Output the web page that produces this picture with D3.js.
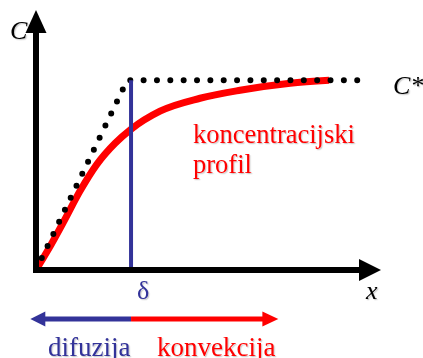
<!DOCTYPE html>
<html>
<head>
<meta charset="utf-8">
<script src="https://cdn.jsdelivr.net/npm/d3@7"></script>
<style>
  html, body { margin: 0; padding: 0; background: #fff; }
  svg { display: block; }
</style>
</head>
<body>
<script>
// Concentration profile near an interface: x measured in units of the boundary-layer thickness δ,
// C in units of the bulk concentration C*.
const profileX = [0, 0.126, 0.295, 0.463, 0.642, 0.832, 1.0, 1.305, 1.726, 2.147, 2.674, 3.084];
const profileC = [0, 0.105, 0.258, 0.416, 0.558, 0.668, 0.742, 0.837, 0.905, 0.947, 0.984, 1.0];

// Linear (film-model) approximation: rises to C* at the film edge, then stays flat.
const filmX = [0, 0.96, 3.49];
const filmC = [0, 1, 1];

const delta = 1;          // boundary-layer thickness
const xMax = 3.63;        // end of the x axis
const cMax = 1.37;        // top of the C axis
const arrowLeft = -0.06;  // extent of the diffusion / convection arrows
const arrowRight = 2.55;

const axisLabels = { c: "C", cStar: "C*", x: "x", delta: "δ" };
const regionLabels = ["difuzija", "konvekcija"];
const profileLabel = ["koncentracijski", "profil"];

const W = 423, H = 358;
const blue = "#333399", red = "#ff0000";
const serif = "Liberation Serif";

const svg = d3.select("body").append("svg").attr("width", W).attr("height", H);

const x = d3.scaleLinear().domain([0, xMax]).range([36, 381]);
const y = d3.scaleLinear().domain([0, cMax]).range([270, 10]);

const defs = svg.append("defs");
const shadow = defs.append("filter").attr("id", "soft").attr("x", "-10%").attr("y", "-10%")
  .attr("width", "130%").attr("height", "140%");
shadow.append("feDropShadow").attr("dx", 1.2).attr("dy", 1.2).attr("stdDeviation", 0.6)
  .attr("flood-color", "#000").attr("flood-opacity", 0.2);

// Concentration profile (red) and film approximation (dotted)
const line = d3.line().x(d => x(d[0])).y(d => y(d[1]));

svg.append("path")
  .attr("d", line.curve(d3.curveMonotoneX)(d3.zip(profileX, profileC)))
  .attr("fill", "none").attr("stroke", red).attr("stroke-width", 7);

svg.append("path")
  .attr("d", d3.line().x(d => x(d[0])).y(d => y(d[1]))(d3.zip(filmX, filmC)))
  .attr("fill", "none").attr("stroke", "#000").attr("stroke-width", 6)
  .attr("stroke-linecap", "round").attr("stroke-dasharray", "0 13.35");

// Boundary-layer edge
svg.append("line")
  .attr("x1", x(delta)).attr("x2", x(delta))
  .attr("y1", y(0)).attr("y2", y(1))
  .attr("stroke", blue).attr("stroke-width", 4);

// Axes with arrowheads
const ax = svg.append("g");
ax.append("line").attr("x1", x(0)).attr("x2", x(0))
  .attr("y1", y(0) + 3).attr("y2", y(cMax) + 22)
  .attr("stroke", "#000").attr("stroke-width", 6);
ax.append("path")
  .attr("d", `M${x(0) - 10.5},${y(cMax) + 23}L${x(0) + 10.5},${y(cMax) + 23}L${x(0)},${y(cMax)}Z`)
  .attr("fill", "#000");
ax.append("line").attr("x1", x(0) - 3).attr("x2", x(xMax) - 21)
  .attr("y1", y(0)).attr("y2", y(0))
  .attr("stroke", "#000").attr("stroke-width", 6);
ax.append("path")
  .attr("d", `M${x(xMax) - 22},${y(0) - 11}L${x(xMax) - 22},${y(0) + 11}L${x(xMax)},${y(0)}Z`)
  .attr("fill", "#000");

// Diffusion / convection arrows
const ay = 319;
svg.append("line").attr("x1", x(delta)).attr("x2", x(arrowLeft) + 14)
  .attr("y1", ay).attr("y2", ay).attr("stroke", blue).attr("stroke-width", 5);
svg.append("path")
  .attr("d", `M${x(arrowLeft) + 15},${ay - 7.5}L${x(arrowLeft) + 15},${ay + 7.5}L${x(arrowLeft)},${ay}Z`)
  .attr("fill", blue);
svg.append("line").attr("x1", x(delta)).attr("x2", x(arrowRight) - 14)
  .attr("y1", ay).attr("y2", ay).attr("stroke", red).attr("stroke-width", 5);
svg.append("path")
  .attr("d", `M${x(arrowRight) - 16},${ay - 7.5}L${x(arrowRight) - 16},${ay + 7.5}L${x(arrowRight)},${ay}Z`)
  .attr("fill", red);

// Labels
const labels = svg.append("g").attr("filter", "url(#soft)");
function label(tx, ty, size, fill, str, italic) {
  return labels.append("text")
    .attr("x", tx).attr("y", ty)
    .attr("font-family", serif).attr("font-size", size)
    .attr("font-style", italic ? "italic" : "normal")
    .attr("fill", fill).text(str);
}
label(10, 39, 26, "#000", axisLabels.c, true);
label(393, 94, 26, "#000", axisLabels.cStar, true);
label(366, 299, 26, "#000", axisLabels.x, true);
label(x(delta) + 12, 299, 26, blue, axisLabels.delta, false).attr("text-anchor", "middle");

label(193, 143, 26.5, red, profileLabel[0], false);
label(193, 173, 26.5, red, profileLabel[1], false);

label(48, 356, 27, blue, regionLabels[0], false);
label(157, 356, 27, red, regionLabels[1], false);
</script>
</body>
</html>
